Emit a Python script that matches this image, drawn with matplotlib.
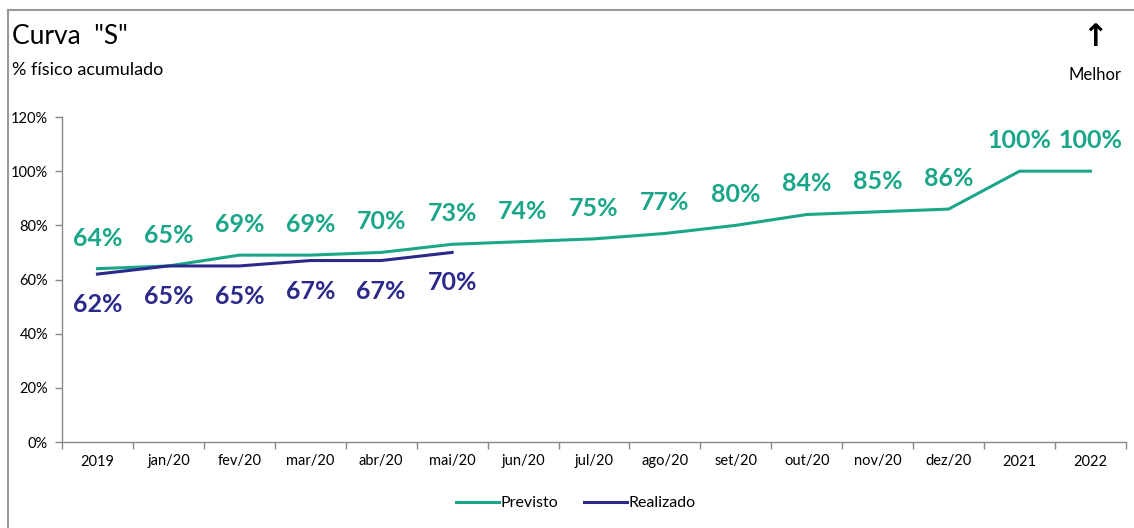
import numpy as np
import matplotlib
matplotlib.use('Agg')
from matplotlib import pyplot as plt
from matplotlib.lines import Line2D

plt.rcParams['font.family'] = ['Lato', 'DejaVu Sans']

categorias = ['2019', 'jan/20', 'fev/20', 'mar/20', 'abr/20', 'mai/20', 'jun/20',
              'jul/20', 'ago/20', 'set/20', 'out/20', 'nov/20', 'dez/20', '2021', '2022']
previsto = [64, 65, 69, 69, 70, 73, 74, 75, 77, 80, 84, 85, 86, 100, 100]
realizado = [62, 65, 65, 67, 67, 70]

verde = '#1BA68A'
azul = '#2B2A8A'

fig = plt.figure(figsize=(11.34, 5.28), dpi=100)
ax = fig.add_axes([62/1134, 1-442/528, (1126-62)/1134, (442-117)/528])

x = np.arange(len(categorias))
ax.plot(x, previsto, color=verde, lw=2.2)
ax.plot(x[:len(realizado)], realizado, color=azul, lw=2.2)

for xi, v in zip(x, previsto):
    ax.annotate(f'{v}%', (xi, v), xytext=(0, 22), textcoords='offset points',
                ha='center', va='center', fontsize=18, fontweight='bold', color=verde)
for xi, v in zip(x, realizado):
    ax.annotate(f'{v}%', (xi, v), xytext=(0, -22), textcoords='offset points',
                ha='center', va='center', fontsize=18, fontweight='bold', color=azul)

ax.set_xlim(-0.5, len(categorias)-0.5)
ax.set_ylim(0, 120)
ax.set_yticks(np.arange(0, 121, 20))
ax.set_yticklabels([f'{v}%' for v in range(0, 121, 20)], fontsize=10.5)
ax.set_xticks(x)
ax.set_xticklabels(categorias, fontsize=10.5)
ax.set_xticks(np.arange(-0.5, len(categorias), 1), minor=True)
ax.tick_params(axis='x', which='major', length=0, pad=9)
ax.tick_params(axis='x', which='minor', length=5, color='#888888', width=1)
ax.tick_params(axis='y', length=5, color='#888888', width=1, pad=5)
for s in ['top', 'right']:
    ax.spines[s].set_visible(False)
for s in ['left', 'bottom']:
    ax.spines[s].set_color('#888888')
    ax.spines[s].set_linewidth(1)

# moldura
fig.add_artist(Line2D([8/1134, 8/1134], [0, 1-10/528], transform=fig.transFigure,
                      color='#999999', lw=1.5))
fig.add_artist(Line2D([8/1134, 1], [1-10/528, 1-10/528], transform=fig.transFigure,
                      color='#999999', lw=1.5))

fig.text(12/1134, 1-37/528, 'Curva  "S"', fontsize=19, va='center', ha='left')
fig.text(12/1134, 1-70/528, '% físico acumulado', fontsize=13, va='center', ha='left')
fig.text(1095/1134, 1-38/528, '↑', fontsize=22, fontweight='bold', va='center',
         ha='center', family='DejaVu Sans')
fig.text(1095/1134, 1-75/528, 'Melhor', fontsize=12, va='center', ha='center')

handles = [Line2D([], [], color=verde, lw=2.2), Line2D([], [], color=azul, lw=2.2)]
fig.legend(handles, ['Previsto', 'Realizado'], loc='center', bbox_to_anchor=(576/1134, 1-503/528),
           ncol=2, frameon=False, fontsize=11.5, handlelength=2.7, handletextpad=0.1,
           columnspacing=1.6)

fig.savefig('out.png', dpi=100)
